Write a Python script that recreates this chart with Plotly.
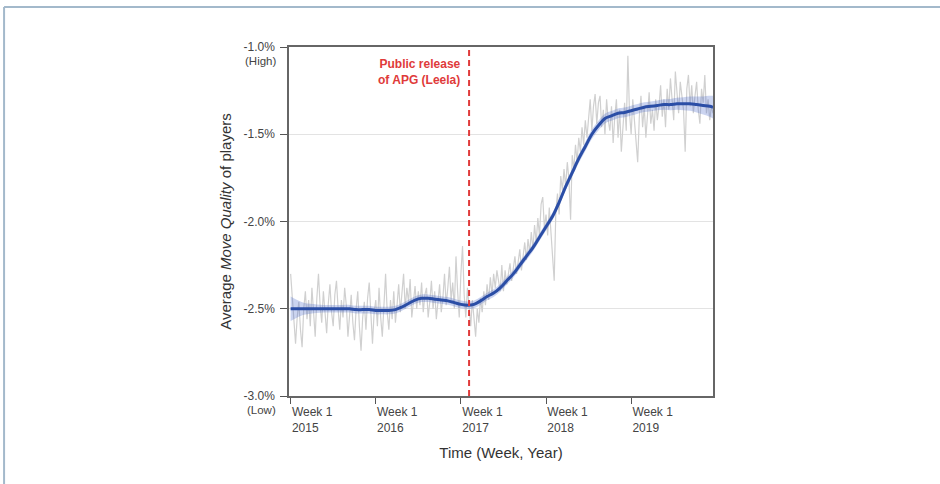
import plotly.graph_objects as go

# Weekly raw average move quality (%), week index 0 = Week 1 2015
raw_quality = [
    -2.30, -2.42, -2.58, -2.70, -2.55, -2.46, -2.62, -2.72, -2.50, -2.40, -2.56, -2.45, -2.60,
    -2.38, -2.52, -2.66, -2.44, -2.30, -2.48, -2.58, -2.40, -2.55, -2.64, -2.47, -2.36, -2.52,
    -2.60, -2.42, -2.34, -2.50, -2.62, -2.45, -2.55, -2.38, -2.48, -2.66, -2.52, -2.42, -2.58,
    -2.68, -2.50, -2.40, -2.60, -2.74, -2.55, -2.46, -2.62, -2.44, -2.35, -2.57, -2.70, -2.52,
    -2.45, -2.60, -2.38, -2.55, -2.66, -2.48, -2.30, -2.52, -2.62, -2.45, -2.56, -2.40, -2.58,
    -2.48, -2.36, -2.52, -2.42, -2.30, -2.50, -2.38, -2.46, -2.33, -2.55, -2.44, -2.37, -2.50,
    -2.40, -2.48, -2.35, -2.52, -2.42, -2.38, -2.55, -2.46, -2.34, -2.50, -2.40, -2.56, -2.45,
    -2.36, -2.52, -2.44, -2.30, -2.48, -2.38, -2.26, -2.45, -2.35, -2.50, -2.20, -2.40, -2.55,
    -2.30, -2.14, -2.42, -2.55, -2.38, -2.50, -2.60, -2.45, -2.56, -2.66, -2.50, -2.58, -2.44,
    -2.52, -2.40, -2.48, -2.36, -2.45, -2.32, -2.42, -2.30, -2.38, -2.28, -2.34, -2.40, -2.25,
    -2.40, -2.28, -2.36, -2.30, -2.24, -2.34, -2.26, -2.20, -2.30, -2.22, -2.16, -2.28, -2.18,
    -2.12, -2.22, -2.10, -2.18, -2.06, -2.16, -2.02, -2.12, -1.98, -2.08, -1.90, -1.86, -2.04,
    -1.96, -2.08, -1.92, -2.10, -2.20, -2.34, -1.94, -1.84, -1.96, -1.74, -1.82, -1.70, -1.80,
    -1.66, -1.76, -1.99, -1.62, -1.70, -1.56, -1.66, -1.52, -1.60, -1.46, -1.56, -1.42, -1.52,
    -1.38, -1.30, -1.48, -1.34, -1.27, -1.44, -1.32, -1.28, -1.46, -1.36, -1.50, -1.30, -1.42,
    -1.48, -1.34, -1.55, -1.40, -1.30, -1.52, -1.36, -1.60, -1.42, -1.32, -1.48, -1.05, -1.38,
    -1.50, -1.30, -1.44, -1.56, -1.66, -1.40, -1.28, -1.46, -1.34, -1.52, -1.38, -1.26, -1.44,
    -1.36, -1.48, -1.30, -1.42, -1.34, -1.22, -1.40, -1.30, -1.46, -1.24, -1.36, -1.18, -1.32,
    -1.42, -1.14, -1.28, -1.38, -1.20, -1.30, -1.36, -1.60, -1.24, -1.16, -1.34, -1.22, -1.38,
    -1.28, -1.20, -1.36, -1.44, -1.24, -1.32, -1.16, -1.38, -1.30, -1.42, -1.34, -1.38,
]
raw_weeks = list(range(len(raw_quality)))

# Smoothed trend (LOESS-like) sampled every 4 weeks
smooth_weeks = [0, 4, 8, 12, 16, 20, 24, 28, 32, 36, 40, 44, 48, 52, 56, 60, 64, 68, 72, 76,
                80, 84, 88, 92, 96, 100, 104, 108, 112, 116, 120, 124, 128, 132, 136, 140,
                144, 148, 152, 156, 160, 164, 168, 172, 176, 180, 184, 188, 192, 196, 200,
                204, 208, 212, 216, 220, 224, 228, 232, 236, 240, 244, 248, 252, 256, 258]
smooth_quality = [-2.50, -2.50, -2.50, -2.50, -2.50, -2.50, -2.50, -2.50, -2.50, -2.50,
                  -2.505, -2.505, -2.505, -2.51, -2.51, -2.51, -2.505, -2.49, -2.47, -2.45,
                  -2.44, -2.44, -2.445, -2.45, -2.455, -2.465, -2.475, -2.48, -2.475, -2.455,
                  -2.43, -2.41, -2.38, -2.34, -2.30, -2.25, -2.20, -2.15, -2.09, -2.03,
                  -1.97, -1.89, -1.80, -1.72, -1.64, -1.57, -1.50, -1.45, -1.41, -1.395,
                  -1.38, -1.375, -1.365, -1.355, -1.345, -1.34, -1.335, -1.33, -1.33, -1.325,
                  -1.325, -1.325, -1.33, -1.335, -1.34, -1.345]
band_halfwidth = [0.07, 0.05, 0.035, 0.028, 0.025, 0.022, 0.022, 0.022, 0.022, 0.022,
                  0.022, 0.022, 0.022, 0.022, 0.022, 0.022, 0.022, 0.022, 0.022, 0.022,
                  0.022, 0.022, 0.022, 0.022, 0.022, 0.022, 0.022, 0.022, 0.022, 0.022,
                  0.022, 0.022, 0.022, 0.022, 0.022, 0.022, 0.022, 0.022, 0.022, 0.022,
                  0.022, 0.022, 0.022, 0.024, 0.025, 0.026, 0.027, 0.028, 0.028, 0.028,
                  0.028, 0.028, 0.028, 0.028, 0.028, 0.028, 0.028, 0.03, 0.032, 0.034,
                  0.037, 0.041, 0.046, 0.052, 0.06, 0.065]

release_week = 109
tick_weeks = [0, 52, 104, 156, 208]
tick_labels = ["Week 1<br>2015", "Week 1<br>2016", "Week 1<br>2017", "Week 1<br>2018", "Week 1<br>2019"]
y_ticks = [-3.0, -2.5, -2.0, -1.5, -1.0]
y_tick_labels = ["-3.0%", "-2.5%", "-2.0%", "-1.5%", "-1.0%"]
y_end_notes = {-1.0: "(High)", -3.0: "(Low)"}

upper = [s + h for s, h in zip(smooth_quality, band_halfwidth)]
lower = [s - h for s, h in zip(smooth_quality, band_halfwidth)]

fig = go.Figure()
fig.add_trace(go.Scatter(x=raw_weeks, y=raw_quality, mode="lines",
                         line=dict(color="#d0d0d0", width=1.2), hoverinfo="skip"))
fig.add_trace(go.Scatter(x=smooth_weeks, y=upper, mode="lines", line=dict(width=0, shape="spline"),
                         hoverinfo="skip"))
fig.add_trace(go.Scatter(x=smooth_weeks, y=lower, mode="lines", line=dict(width=0, shape="spline"),
                         fill="tonexty", fillcolor="rgba(70,100,200,0.28)", hoverinfo="skip"))
fig.add_trace(go.Scatter(x=smooth_weeks, y=smooth_quality, mode="lines",
                         line=dict(color="#2b4ea6", width=3, shape="spline")))

fig.add_shape(type="line", xref="x", yref="paper", x0=release_week, x1=release_week, y0=0, y1=1,
              line=dict(color="#e03a3a", width=2, dash="6px,4px"))
fig.add_annotation(x=release_week, y=-1.045, xref="x", yref="y", xshift=-6,
                   text="<b>Public release<br>of APG (Leela)</b>", showarrow=False,
                   xanchor="right", yanchor="top", align="right",
                   font=dict(color="#e03a3a", size=12, family="Liberation Sans, Arial"))

# "(High)" / "(Low)" notes under the end tick labels
for yv, note in y_end_notes.items():
    fig.add_annotation(x=0, xref="paper", y=yv, yref="y", xanchor="right", yanchor="middle",
                       xshift=-11, yshift=-14, text=note, showarrow=False,
                       font=dict(size=11.5, color="#444", family="Liberation Sans, Arial"))

# page border (top and left)
fig.add_shape(type="line", xref="paper", yref="paper", x0=-0.672, x1=1.6, y0=1.1146, y1=1.1146,
              line=dict(color="#a3b9cb", width=2))
fig.add_shape(type="line", xref="paper", yref="paper", x0=-0.672, x1=-0.672, y0=1.1146, y1=-0.3,
              line=dict(color="#a3b9cb", width=2))

fig.update_layout(
    width=940, height=484,
    margin=dict(l=289, r=227, t=47, b=88),
    paper_bgcolor="white", plot_bgcolor="white",
    showlegend=False,
    font=dict(family="Liberation Sans, Arial", color="#333333"),
    xaxis=dict(range=[-1, 258], tickmode="array", tickvals=tick_weeks, ticktext=tick_labels,
               ticks="outside", ticklen=6, tickcolor="#555", tickwidth=1,
               ticklabelposition="outside right", ticklabelstandoff=4,
               showline=True, linecolor="#666", linewidth=1.5, mirror=True,
               showgrid=False, zeroline=False, tickfont=dict(size=12, color="#444"),
               title=dict(text="Time (Week, Year)", font=dict(size=15, color="#333"), standoff=14)),
    yaxis=dict(range=[-3.0, -1.0], tickmode="array", tickvals=y_ticks, ticktext=y_tick_labels,
               ticks="outside", ticklen=7, tickcolor="#555", tickwidth=1,
               ticklabelstandoff=3,
               showline=True, linecolor="#666", linewidth=1.5, mirror=True,
               showgrid=True, gridcolor="#e3e3e3", gridwidth=1, zeroline=False,
               tickfont=dict(size=12, color="#444"),
               title=dict(text="Average <i>Move Quality</i> of players", font=dict(size=15, color="#333"),
                          standoff=8)),
)

fig.write_html("out.html", post_script="document.body.style.margin='0';",
               config={"displayModeBar": False})
